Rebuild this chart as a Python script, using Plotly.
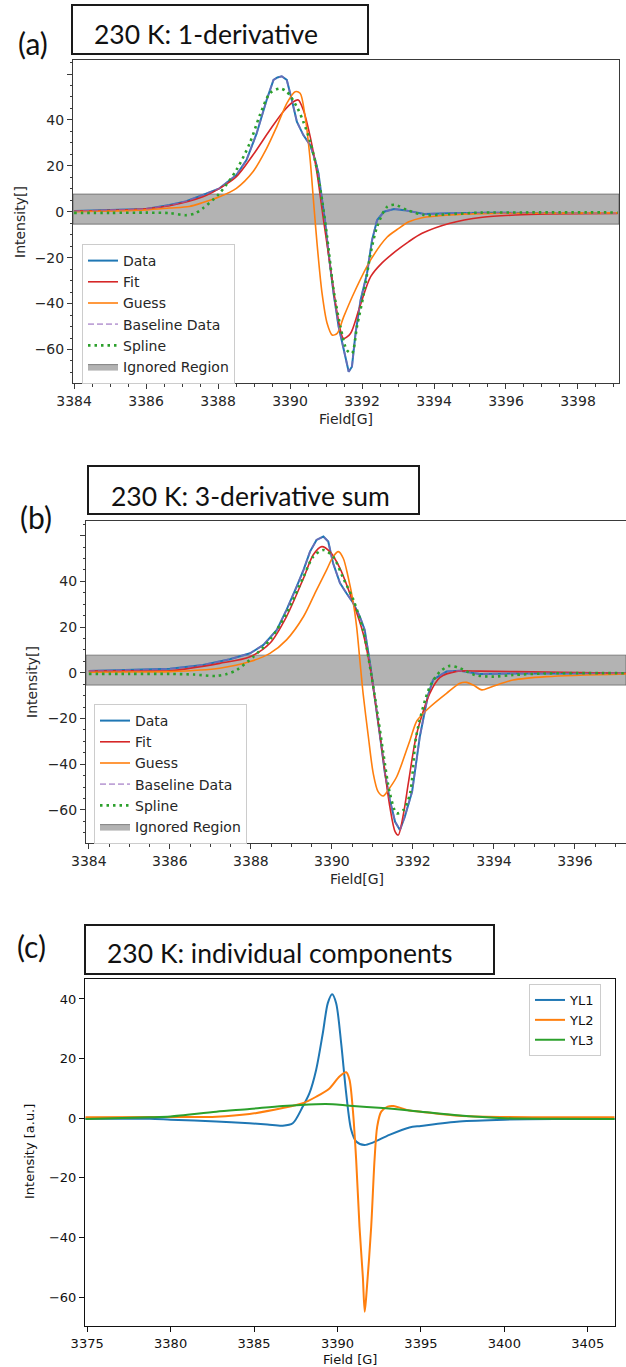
import plotly.graph_objects as go

W, H = 626, 1367

# ---------------- Panel (a): 230 K, 1-derivative ----------------
a_data_x = [3384.0, 3385.0, 3386.0, 3386.65, 3387.1, 3387.58, 3388.04, 3388.51, 3388.79, 3389.07,
            3389.35, 3389.54, 3389.65, 3389.77, 3389.91, 3390.05, 3390.19, 3390.37, 3390.56, 3390.70,
            3390.79, 3390.89, 3390.98, 3391.07, 3391.21, 3391.35, 3391.49, 3391.63, 3391.72, 3391.82,
            3391.96, 3392.14, 3392.28, 3392.42, 3392.61, 3392.89, 3393.17, 3393.45, 3393.73, 3394.4,
            3395.5, 3396.5, 3397.5, 3399.1]
a_data_y = [0.3, 0.6, 1.2, 2.9, 4.5, 7.3, 10.2, 16.0, 22.5, 34.0,
            48.7, 57.4, 58.5, 59.0, 57.4, 48.7, 39.2, 33.4, 29.0, 22.5,
            16.7, 5.1, -5.0, -18.0, -35.6, -50.0, -60.3, -69.7, -67.5, -53.0,
            -38.5, -26.8, -12.3, -3.6, 0.0, 1.2, 0.7, -0.3, -1.0, -0.7,
            -0.4, -0.5, -0.6, -0.6]

a_fit_x = [3384.0, 3385.0, 3386.0, 3386.65, 3387.58, 3388.04, 3388.51, 3388.97, 3389.44, 3389.81,
           3390.09, 3390.23, 3390.37, 3390.56, 3390.75, 3390.93, 3391.12, 3391.31, 3391.49, 3391.68,
           3391.91, 3392.24, 3392.55, 3392.92, 3393.3, 3393.67, 3394.42, 3395.35, 3396.28, 3397.2, 3399.1]
a_fit_y = [0.3, 0.6, 1.3, 2.6, 6.5, 10.2, 15.3, 24.7, 35.6, 43.6,
           47.9, 48.7, 44.3, 32.7, 16.7, -3.6, -24.0, -44.3, -55.2, -53.0,
           -42.8, -28.3, -22.4, -17.4, -13.0, -9.4, -5.1, -2.4, -1.4, -1.0, -0.7]

a_guess_x = [3384.0, 3385.0, 3386.0, 3386.65, 3387.2, 3387.58, 3388.04, 3388.51, 3388.97, 3389.35,
             3389.63, 3389.91, 3390.14, 3390.28, 3390.42, 3390.56, 3390.65, 3390.75, 3390.89, 3391.03,
             3391.17, 3391.31, 3391.49, 3391.77, 3392.24, 3392.70, 3393.0, 3393.3, 3393.67, 3394.42,
             3395.35, 3397.0, 3399.1]
a_guess_y = [0.0, 0.3, 0.8, 1.6, 2.3, 4.0, 6.5, 10.2, 17.4, 27.6,
             37.0, 47.2, 52.3, 51.6, 41.4, 22.5, 5.1, -13.8, -35.6, -48.6,
             -53.7, -53.0, -45.8, -35.6, -21.0, -11.0, -7.5, -4.4, -2.6, -1.4,
             -0.8, -0.6, -0.5]

a_spline_x = [3384.0, 3385.0, 3386.0, 3386.65, 3387.1, 3387.35, 3387.58, 3388.04, 3388.51, 3388.88,
              3389.16, 3389.44, 3389.72, 3389.91, 3390.19, 3390.37, 3390.56, 3390.75, 3390.89, 3391.03,
              3391.21, 3391.40, 3391.58, 3391.72, 3391.86, 3392.05, 3392.24, 3392.42, 3392.70, 3392.92,
              3393.26, 3393.73, 3394.38, 3395.3, 3396.5, 3399.1]
a_spline_y = [-0.5, -0.5, -0.4, -0.6, -1.5, -0.8, 1.5, 8.0, 18.2, 29.8,
              42.0, 51.6, 53.7, 52.3, 45.7, 39.2, 30.5, 18.2, 5.1, -10.9,
              -34.0, -50.0, -60.3, -61.7, -50.0, -35.6, -18.1, -6.5, 2.2, 3.0,
              0.7, -1.4, -1.1, -0.4, -0.3, -0.3]

# ---------------- Panel (b): 230 K, 3-derivative sum ----------------
b_data_x = [3384.0, 3385.0, 3386.0, 3386.82, 3387.48, 3387.98, 3388.31, 3388.64, 3388.88, 3389.13,
            3389.30, 3389.46, 3389.62, 3389.79, 3389.91, 3390.03, 3390.20, 3390.36, 3390.53, 3390.69,
            3390.81, 3390.94, 3391.06, 3391.19, 3391.31, 3391.43, 3391.56, 3391.68, 3391.80, 3391.98,
            3392.17, 3392.37, 3392.5, 3392.83, 3393.16, 3393.65, 3394.47, 3396.0, 3397.3]
b_data_y = [0.8, 1.2, 1.7, 3.4, 5.9, 8.5, 12.2, 18.7, 27.5, 37.7,
            45.0, 53.0, 58.1, 59.6, 57.4, 47.9, 39.2, 34.8, 30.4, 24.6,
            18.7, 4.2, -10.5, -28.0, -44.0, -55.7, -65.2, -68.8, -63.0, -52.0,
            -28.0, -10.0, -3.0, 0.5, 0.9, -0.5, -0.3, -0.2, -0.3]

b_fit_x = [3384.0, 3385.0, 3386.0, 3387.23, 3387.98, 3388.47, 3388.88, 3389.30, 3389.54, 3389.75,
           3389.95, 3390.20, 3390.53, 3390.77, 3390.94, 3391.10, 3391.27, 3391.43, 3391.56, 3391.64,
           3391.77, 3391.89, 3392.09, 3392.42, 3392.67, 3393.08, 3393.65, 3395.3, 3397.3]
b_fit_y = [0.7, 0.8, 0.9, 4.1, 7.0, 12.9, 24.6, 41.4, 51.6, 55.2,
           53.0, 45.7, 30.4, 17.3, 2.7, -16.3, -38.2, -58.6, -69.5, -71.0,
           -61.4, -48.0, -27.0, -8.9, -2.0, 0.6, 0.7, 0.3, -0.2]

b_guess_x = [3384.0, 3385.0, 3386.0, 3387.23, 3387.98, 3388.47, 3388.88, 3389.30, 3389.62, 3389.87,
             3390.03, 3390.16, 3390.28, 3390.40, 3390.53, 3390.61, 3390.69, 3390.77, 3390.90, 3391.02,
             3391.14, 3391.27, 3391.39, 3391.60, 3391.93, 3392.1, 3392.42, 3392.83, 3393.16, 3393.33,
             3393.5, 3393.7, 3393.95, 3394.47, 3395.3, 3397.3]
b_guess_y = [0.2, 0.3, 0.5, 2.0, 4.9, 8.5, 14.4, 24.6, 36.2, 45.0,
             50.8, 53.0, 50.1, 42.0, 30.4, 20.2, 5.6, -9.0, -28.0, -44.0,
             -52.0, -53.9, -51.3, -45.5, -29.4, -21.0, -15.0, -9.0, -4.6, -4.2,
             -5.5, -7.5, -6.1, -3.2, -1.7, -0.5]

b_spline_x = [3384.0, 3385.0, 3386.0, 3386.6, 3387.13, 3387.4, 3387.65, 3388.06, 3388.47, 3388.88,
              3389.30, 3389.54, 3389.79, 3390.03, 3390.28, 3390.53, 3390.77, 3390.94, 3391.10, 3391.27,
              3391.43, 3391.60, 3391.77, 3391.93, 3392.09, 3392.42, 3392.67, 3392.91, 3393.16, 3393.53,
              3393.95, 3394.47, 3395.3, 3397.3]
b_spline_y = [-0.5, -0.5, -0.5, -0.8, -1.4, -0.6, 1.2, 7.0, 14.4, 26.0,
              42.0, 50.8, 53.7, 50.8, 41.4, 31.9, 18.7, 2.7, -14.8, -35.2,
              -52.7, -61.5, -60.0, -52.7, -27.0, -6.0, 0.5, 3.0, 2.0, -1.0,
              -1.7, -1.0, -0.3, -0.2]

# Ignored region (same in both fits)
ignored_lo = -5.4
ignored_hi = 7.7

# ---------------- Panel (c): individual components ----------------
c_yl1_x = [3374.9, 3378.74, 3380.0, 3382.74, 3384.73, 3385.8, 3386.72, 3387.32, 3387.92, 3388.32,
           3388.72, 3389.12, 3389.42, 3389.68, 3389.92, 3390.22, 3390.52, 3390.82, 3391.12, 3391.62,
           3392.11, 3393.11, 3394.31, 3395.0, 3397.3, 3400.0, 3403.0, 3406.6]
c_yl1_y = [-0.2, -0.2, -0.5, -1.1, -1.7, -2.1, -2.5, -1.7, 3.9, 8.4,
           16.2, 28.5, 38.6, 41.6, 38.6, 25.2, 8.4, -3.9, -7.8, -9.0,
           -8.2, -5.6, -3.1, -2.6, -1.1, -0.5, -0.3, -0.3]

c_yl2_x = [3374.9, 3380.0, 3382.74, 3384.73, 3386.72, 3387.92, 3388.72, 3389.52, 3390.12, 3390.52,
           3390.72, 3390.92, 3391.12, 3391.32, 3391.52, 3391.63, 3391.72, 3392.02, 3392.22, 3392.38,
           3392.62, 3393.01, 3393.35, 3394.31, 3395.0, 3397.3, 3400.0, 3406.6]
c_yl2_y = [0.3, 0.4, 0.5, 1.4, 3.4, 5.0, 7.2, 10.0, 14.0, 15.4,
           12.9, 2.8, -14.0, -36.4, -53.2, -64.9, -60.0, -36.4, -14.0, -2.8,
           2.2, 3.9, 4.1, 2.6, 2.2, 0.8, 0.4, 0.3]

c_yl3_x = [3374.9, 3378.74, 3380.0, 3382.74, 3384.73, 3386.72, 3388.72, 3389.72, 3390.72, 3392.71,
           3394.31, 3395.0, 3397.0, 3400.0, 3403.0, 3406.6]
c_yl3_y = [-0.3, 0.3, 0.6, 2.2, 3.1, 4.1, 4.7, 4.7, 4.2, 3.4,
           2.6, 2.2, 1.1, 0.0, -0.2, -0.3]

# tick labels
ab_ytickvals = [-60, -40, -20, 0, 20, 40, 60]
ab_yticktext = ["\u221260", "\u221240", "\u221220", "0", "20", "40", ""]
c_ytickvals = [-60, -40, -20, 0, 20, 40]
c_yticktext = ["\u221260", "\u221240", "\u221220", "0", "20", "40"]

# ---------------- layout geometry (pixels) ----------------
def fx(p):
    return p / W

def fy(p):
    return 1 - p / H

A_RANGE_X = [3383.97, 3399.14]
A_RANGE_Y = [-74.6, 66.1]
B_RANGE_X = [3383.93, 3397.26]
B_RANGE_Y = [-74.5, 66.4]
C_RANGE_X = [3374.87, 3406.63]
C_RANGE_Y = [-69.7, 46.7]

C0, C1, C2, C3, C4 = "#1f77b4", "#ff7f0e", "#2ca02c", "#d62728", "#9467bd"
TICKFONT = dict(family="DejaVu Sans", size=14, color="#262626")
AXCOL = "#3a3a3a"

fig = go.Figure()


def add_fit_panel(xa, ya, legend, xr, dx, dy, fx_, fy_, gx, gy, sx, sy):
    # ignored region band
    fig.add_trace(go.Scatter(
        x=[xr[0], xr[1], xr[1], xr[0], xr[0]],
        y=[ignored_lo, ignored_lo, ignored_hi, ignored_hi, ignored_lo],
        fill="toself", fillcolor="rgba(128,128,128,0.6)", mode="lines",
        line=dict(color="rgba(90,90,90,0.7)", width=1),
        name="Ignored Region", legend=legend, legendrank=6,
        xaxis=xa, yaxis=ya, hoverinfo="skip"))
    fig.add_trace(go.Scatter(x=dx, y=dy, mode="lines", name="Data",
                             line=dict(color=C0, width=2.0), legend=legend, legendrank=1,
                             xaxis=xa, yaxis=ya))
    fig.add_trace(go.Scatter(x=fx_, y=fy_, mode="lines", name="Fit",
                             line=dict(color=C3, width=1.6, shape="spline", smoothing=0.8),
                             legend=legend, legendrank=2, xaxis=xa, yaxis=ya))
    fig.add_trace(go.Scatter(x=gx, y=gy, mode="lines", name="Guess",
                             line=dict(color=C1, width=1.6, shape="spline", smoothing=0.8),
                             legend=legend, legendrank=3, xaxis=xa, yaxis=ya))
    fig.add_trace(go.Scatter(x=dx, y=dy, mode="lines", name="Baseline Data",
                             line=dict(color="rgba(148,103,189,0.6)", width=1.8, dash="6px,3px"),
                             legend=legend, legendrank=4, xaxis=xa, yaxis=ya))
    fig.add_trace(go.Scatter(x=sx, y=sy, mode="lines", name="Spline",
                             line=dict(color=C2, width=2.6, dash="2.5px,4px", shape="spline", smoothing=0.8),
                             legend=legend, legendrank=5, xaxis=xa, yaxis=ya))


add_fit_panel("x", "y", "legend", A_RANGE_X, a_data_x, a_data_y, a_fit_x, a_fit_y,
              a_guess_x, a_guess_y, a_spline_x, a_spline_y)
add_fit_panel("x2", "y2", "legend2", B_RANGE_X, b_data_x, b_data_y, b_fit_x, b_fit_y,
              b_guess_x, b_guess_y, b_spline_x, b_spline_y)

fig.add_trace(go.Scatter(x=c_yl1_x, y=c_yl1_y, mode="lines", name="YL1",
                         line=dict(color=C0, width=2, shape="spline", smoothing=0.8),
                         legend="legend3", xaxis="x3", yaxis="y3"))
fig.add_trace(go.Scatter(x=c_yl2_x, y=c_yl2_y, mode="lines", name="YL2",
                         line=dict(color=C1, width=2, shape="spline", smoothing=0.8),
                         legend="legend3", xaxis="x3", yaxis="y3"))
fig.add_trace(go.Scatter(x=c_yl3_x, y=c_yl3_y, mode="lines", name="YL3",
                         line=dict(color=C2, width=2, shape="spline", smoothing=0.8),
                         legend="legend3", xaxis="x3", yaxis="y3"))


def xaxis(domain, rng, dtick, minor, tickfont, color=AXCOL, mirror=True):
    d = dict(domain=domain, range=rng, dtick=dtick, tick0=3375 if dtick == 5 else 3384,
             showgrid=False, zeroline=False, showline=True, linecolor=color, linewidth=1,
             mirror=mirror, ticks="outside", ticklen=5, tickwidth=1, tickcolor=color,
             tickfont=tickfont, tickformat="d", automargin=False)
    if minor:
        d["minor"] = dict(dtick=0.5, tick0=3384, ticks="outside", ticklen=2.5,
                          tickcolor=color, showgrid=False)
    return d


def yaxis(domain, rng, tv, tt, minor, tickfont, color=AXCOL, mirror=True):
    d = dict(domain=domain, range=rng, tickvals=tv, ticktext=tt,
             showgrid=False, zeroline=False, showline=True, linecolor=color, linewidth=1,
             mirror=mirror, ticks="outside", ticklen=5, tickwidth=1, tickcolor=color,
             tickfont=tickfont, automargin=False)
    if minor:
        d["minor"] = dict(dtick=5, tick0=0, ticks="outside", ticklen=2.5,
                          tickcolor=color, showgrid=False)
    return d


CTICK = dict(family="DejaVu Sans", size=13, color="#111111")

legend_common = dict(bgcolor="rgba(255,255,255,0.8)", bordercolor="#cccccc", borderwidth=1,
                     xanchor="left", yanchor="top", traceorder="normal",
                     xref="container", yref="container")

fig.update_layout(
    width=W, height=H, margin=dict(l=0, r=0, t=0, b=0, autoexpand=False),
    paper_bgcolor="white", plot_bgcolor="white",
    xaxis=xaxis([fx(73), fx(619)], A_RANGE_X, 2, True, TICKFONT),
    yaxis=yaxis([fy(383), fy(60)], A_RANGE_Y, ab_ytickvals, ab_yticktext, True, TICKFONT),
    xaxis2=dict(xaxis([fx(86), 1.0], B_RANGE_X, 2, True, TICKFONT), anchor="y2"),
    yaxis2=dict(yaxis([fy(843), fy(521)], B_RANGE_Y, ab_ytickvals, ab_yticktext, True, TICKFONT,
                      mirror=False), anchor="x2"),
    xaxis3=dict(xaxis([fx(85), fx(615)], C_RANGE_X, 5, False, CTICK, color="#111111"), anchor="y3"),
    yaxis3=dict(yaxis([fy(1326), fy(979)], C_RANGE_Y, c_ytickvals, c_yticktext, False, CTICK,
                      color="#111111"), anchor="x3"),
    legend=dict(legend_common, x=fx(82), y=fy(244),
                font=dict(family="DejaVu Sans", size=14, color="#262626")),
    legend2=dict(legend_common, x=fx(94), y=fy(704),
                 font=dict(family="DejaVu Sans", size=14, color="#262626")),
    legend3=dict(legend_common, x=fx(529), y=fy(984),
                 font=dict(family="DejaVu Sans", size=13, color="#111111")),
    showlegend=True,
)

# title boxes
for (x0, y0, x1, y1) in [(72, 5, 368, 54), (88, 466, 419, 514), (85, 925, 494, 974)]:
    fig.add_shape(type="rect", xref="paper", yref="paper",
                  x0=fx(x0), x1=fx(x1), y0=fy(y1), y1=fy(y0),
                  line=dict(color="#1a1a1a", width=2), fillcolor="rgba(0,0,0,0)")

TITLEFONT = dict(family="Lato", size=26.5, color="#111111")
PANELFONT = dict(family="Lato", size=30, color="#111111")
annos = [
    dict(text="230 K: 1-derivative", x=fx(92), y=fy(34), font=TITLEFONT, xanchor="left"),
    dict(text="230 K: 3-derivative sum", x=fx(109), y=fy(496), font=TITLEFONT, xanchor="left"),
    dict(text="230 K: individual components", x=fx(105), y=fy(953), font=TITLEFONT, xanchor="left"),
    dict(text="(a)", x=fx(33), y=fy(43), font=PANELFONT, xanchor="center"),
    dict(text="(b)", x=fx(36), y=fy(517), font=PANELFONT, xanchor="center"),
    dict(text="(c)", x=fx(31), y=fy(946), font=PANELFONT, xanchor="center"),
    # axis titles
    dict(text="Field[G]", x=fx(346), y=fy(419), font=TICKFONT, xanchor="center"),
    dict(text="Intensity[]", x=fx(20), y=fy(222), font=TICKFONT, textangle=-90, xanchor="center"),
    dict(text="Field[G]", x=fx(357), y=fy(879), font=TICKFONT, xanchor="center"),
    dict(text="Intensity[]", x=fx(32), y=fy(682), font=TICKFONT, textangle=-90, xanchor="center"),
    dict(text="Field [G]", x=fx(350), y=fy(1359), font=CTICK, xanchor="center"),
    dict(text="Intensity [a.u.]", x=fx(29), y=fy(1152), font=CTICK, textangle=-90, xanchor="center"),
]
for a in annos:
    fig.add_annotation(xref="paper", yref="paper", showarrow=False, yanchor="middle", **a)

fig.write_html("out.html")
